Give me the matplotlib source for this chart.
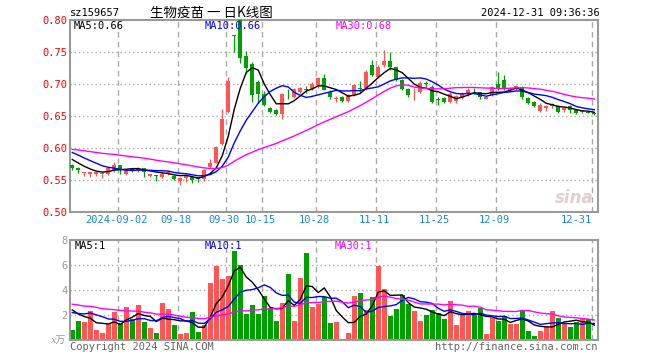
import matplotlib.pyplot as plt
import numpy as np

plt.rcParams['font.family'] = ['DejaVu Sans Mono', 'Noto Sans CJK SC']

# trading days shown (month -> days)
trade_days = {
    8: [21, 22, 23, 26, 27, 28, 29, 30],
    9: [2, 3, 4, 5, 6, 9, 10, 11, 12, 13, 18, 19, 20, 23, 24, 25, 26, 27, 30],
    10: [8, 9, 10, 11, 14, 15, 16, 17, 18, 21, 22, 23, 24, 25, 28, 29, 30, 31],
    11: [1, 4, 5, 6, 7, 8, 11, 12, 13, 14, 15, 18, 19, 20, 21, 22, 25, 26, 27, 28, 29],
    12: [2, 3, 4, 5, 6, 9, 10, 11, 12, 13, 16, 17, 18, 19, 20, 23, 24, 25, 26, 27, 30, 31],
}
dates = [f"2024-{m:02d}-{d:02d}" for m, days in trade_days.items() for d in days]

open_ = [0.573, 0.569, 0.561, 0.560, 0.560, 0.560, 0.560, 0.566, 0.573, 0.560,
         0.567, 0.564, 0.568, 0.557, 0.557, 0.554, 0.559, 0.557, 0.548, 0.553,
         0.554, 0.553, 0.552, 0.570, 0.577, 0.607, 0.657, 0.776, 0.800, 0.743,
         0.731, 0.703, 0.685, 0.662, 0.660, 0.653, 0.685, 0.680, 0.688, 0.692,
         0.692, 0.698, 0.709, 0.688, 0.677, 0.679, 0.674, 0.683, 0.694, 0.693,
         0.729, 0.711, 0.729, 0.736, 0.726, 0.706, 0.692, 0.690, 0.688, 0.701,
         0.696, 0.676, 0.678, 0.672, 0.673, 0.678, 0.684, 0.691, 0.687, 0.677,
         0.683, 0.700, 0.706, 0.691, 0.693, 0.695, 0.678, 0.672, 0.658, 0.662,
         0.665, 0.666, 0.659, 0.665, 0.659, 0.656, 0.657, 0.655]
high = [0.575, 0.570, 0.563, 0.562, 0.563, 0.562, 0.570, 0.578, 0.574, 0.566,
        0.569, 0.570, 0.569, 0.560, 0.558, 0.562, 0.566, 0.558, 0.555, 0.560,
        0.556, 0.555, 0.567, 0.583, 0.603, 0.661, 0.711, 0.776, 0.800, 0.752,
        0.735, 0.706, 0.689, 0.664, 0.661, 0.686, 0.692, 0.694, 0.696, 0.697,
        0.703, 0.711, 0.716, 0.691, 0.681, 0.681, 0.685, 0.700, 0.704, 0.722,
        0.737, 0.730, 0.753, 0.750, 0.727, 0.708, 0.694, 0.693, 0.704, 0.705,
        0.698, 0.679, 0.680, 0.688, 0.683, 0.687, 0.693, 0.694, 0.688, 0.680,
        0.697, 0.718, 0.714, 0.695, 0.698, 0.697, 0.679, 0.673, 0.670, 0.667,
        0.670, 0.667, 0.663, 0.667, 0.660, 0.659, 0.658, 0.656]
low = [0.566, 0.561, 0.557, 0.555, 0.557, 0.553, 0.558, 0.563, 0.559, 0.558,
       0.562, 0.562, 0.555, 0.554, 0.548, 0.553, 0.558, 0.550, 0.542, 0.547,
       0.545, 0.547, 0.549, 0.568, 0.576, 0.605, 0.655, 0.750, 0.733, 0.717,
       0.672, 0.670, 0.665, 0.655, 0.651, 0.646, 0.676, 0.678, 0.686, 0.686,
       0.690, 0.694, 0.690, 0.676, 0.672, 0.672, 0.672, 0.681, 0.688, 0.690,
       0.712, 0.709, 0.727, 0.722, 0.705, 0.690, 0.680, 0.675, 0.686, 0.695,
       0.670, 0.667, 0.670, 0.670, 0.671, 0.676, 0.682, 0.685, 0.677, 0.676,
       0.681, 0.690, 0.690, 0.689, 0.691, 0.677, 0.668, 0.664, 0.656, 0.658,
       0.663, 0.655, 0.656, 0.654, 0.653, 0.655, 0.654, 0.652]
close = [0.568, 0.565, 0.562, 0.562, 0.562, 0.561, 0.569, 0.573, 0.566, 0.565,
         0.566, 0.569, 0.562, 0.559, 0.556, 0.560, 0.563, 0.552, 0.553, 0.558,
         0.550, 0.552, 0.565, 0.576, 0.602, 0.645, 0.705, 0.775, 0.740, 0.725,
         0.683, 0.685, 0.667, 0.657, 0.653, 0.684, 0.684, 0.692, 0.694, 0.691,
         0.700, 0.709, 0.691, 0.679, 0.678, 0.674, 0.683, 0.698, 0.693, 0.719,
         0.714, 0.727, 0.736, 0.726, 0.707, 0.692, 0.683, 0.691, 0.701, 0.700,
         0.672, 0.675, 0.672, 0.685, 0.681, 0.685, 0.691, 0.690, 0.679, 0.679,
         0.695, 0.692, 0.692, 0.693, 0.697, 0.679, 0.671, 0.666, 0.667, 0.666,
         0.668, 0.657, 0.662, 0.659, 0.654, 0.658, 0.655, 0.653]
# volume in units of 10k
volume = [0.80, 1.52, 1.44, 2.35, 0.80, 0.56, 1.28, 2.24, 1.33, 2.61,
          1.65, 2.77, 1.44, 0.96, 0.56, 2.96, 2.45, 1.20, 0.48, 0.56,
          2.24, 0.64, 1.20, 4.56, 5.95, 4.88, 5.12, 7.12, 6.00, 2.08,
          2.80, 2.08, 3.52, 2.53, 1.52, 2.96, 5.28, 1.52, 4.96, 6.96,
          2.64, 2.88, 3.41, 1.36, 1.47, 0.10, 0.59, 3.52, 3.79, 2.40,
          3.47, 5.95, 4.08, 1.95, 2.48, 3.57, 2.88, 2.32, 1.55, 2.00,
          2.40, 2.13, 1.68, 3.12, 1.20, 2.00, 2.35, 2.00, 2.59, 0.48,
          1.79, 1.55, 1.92, 1.28, 1.28, 2.40, 0.72, 0.32, 0.75, 1.07,
          2.35, 1.76, 1.31, 1.04, 1.47, 1.68, 1.68, 0.10]

# closes / volumes before the visible window (needed for the moving averages)
prior_close = [0.596, 0.598, 0.601, 0.603, 0.600, 0.597, 0.599, 0.602, 0.604, 0.601,
               0.598, 0.600, 0.603, 0.605, 0.602, 0.599, 0.597, 0.600, 0.602, 0.600,
               0.606, 0.607, 0.604, 0.602, 0.601, 0.592, 0.588, 0.583, 0.579]
prior_volume = [3.5, 4.2, 2.8, 3.0, 3.9, 2.6, 3.3, 2.9, 3.6, 2.4,
                3.1, 3.8, 2.7, 3.4, 3.0, 2.5, 3.6, 3.2, 2.8, 3.7,
                2.2, 1.8, 1.6, 2.3, 2.0, 3.1, 2.5, 3.0, 2.6]

tick_dates = ["2024-09-02", "2024-09-18", "2024-09-30", "2024-10-15", "2024-10-28",
              "2024-11-11", "2024-11-25", "2024-12-09", "2024-12-31"]
tick_labels = ["2024-09-02", "09-18", "09-30", "10-15", "10-28",
               "11-11", "11-25", "12-09", "12-31"]

ma_periods = [5, 10, 30]
ma_colors = ["black", "#0000ff", "#ff00ff"]

RED = "#ff5555"
GREEN = "#00a000"
GRID = "#aaaaaa"
W, H = 660, 360


def moving_average(values, prior, n):
    full = np.r_[prior, values]
    out = np.convolve(full, np.ones(n) / n, mode="valid")
    return out[-len(values):]


def style_axes(ax):
    for s in ax.spines.values():
        s.set_color("#999999")
        s.set_linewidth(1.5)
    ax.set_xticks([])
    ax.tick_params(axis="y", length=0, pad=2, labelsize=7.5)


def main():
    x = np.arange(len(close))
    o, h, l, c = map(np.array, (open_, high, low, close))
    up = c > o
    colors = np.where(up, RED, GREEN)
    tick_idx = [dates.index(d) for d in tick_dates]

    fig = plt.figure(figsize=(W / 100, H / 100), dpi=100)
    ax = fig.add_axes([70 / W, 148 / H, 528 / W, 192 / H])
    axv = fig.add_axes([70 / W, 20 / H, 528 / W, 100 / H])

    # ---- price panel
    for lev in [0.55, 0.60, 0.65, 0.70, 0.75]:
        ax.axhline(lev, color=GRID, lw=1, ls=(0, (1, 2)), zorder=0)
    for i in tick_idx:
        ax.axvline(i - 0.33, color=GRID, lw=1, ls=(0, (4, 3)), zorder=0)

    ax.vlines(x, l, h, colors=colors, lw=0.9, zorder=2)
    body = np.abs(c - o)
    minh = 0.0012
    bottom = np.minimum(o, c) - np.clip(minh - body, 0, None) / 2
    ax.bar(x, np.maximum(body, minh), bottom=bottom, width=0.72, color=colors, zorder=3)

    ma_vals = []
    for n, col in zip(ma_periods, ma_colors):
        ma = moving_average(c, prior_close, n)
        ma_vals.append(ma[-1])
        ax.plot(x, ma, color=col, lw=1, zorder=4)

    ax.set_xlim(-0.38, 87.62)
    ax.set_ylim(0.50, 0.80)
    ax.set_yticks(np.arange(0.50, 0.801, 0.05))
    ax.set_yticklabels([f"{v:.2f}" for v in np.arange(0.50, 0.801, 0.05)], color="red")
    style_axes(ax)

    for n, col, v, px in zip(ma_periods, ma_colors, ma_vals, [74, 205, 336]):
        ax.text((px - 70) / 528, 0.97, f"MA{n}:{v:.2f}", color=col, fontsize=7.5,
                transform=ax.transAxes, va="center", ha="left", zorder=6)

    for k, (i, lab) in enumerate(zip(tick_idx, tick_labels)):
        last = k == len(tick_idx) - 1
        ax.text(i - 0.33 if last else i - 0.7, -0.042, lab, color="#1a8ad4",
                fontsize=7.5, ha="right" if last else "center", va="center",
                transform=ax.get_xaxis_transform(), clip_on=False)

    ax.text(0.955, 0.075, "sina", transform=ax.transAxes, fontsize=12,
            fontstyle="italic", fontweight="bold", color="#dcd0d0",
            family="DejaVu Sans", ha="center", va="center", zorder=1)

    # ---- volume panel
    for lev in [2, 4, 6]:
        axv.axhline(lev, color=GRID, lw=1, ls=(0, (1, 2)), zorder=0)
    for i in tick_idx:
        axv.axvline(i - 0.33, color=GRID, lw=1, ls=(0, (4, 3)), zorder=0)

    v = np.array(volume)
    axv.bar(x, v, width=0.85, color=colors, zorder=2)
    vma_vals = []
    for n, col in zip(ma_periods, ma_colors):
        ma = moving_average(v, prior_volume, n)
        vma_vals.append(ma[-1])
        axv.plot(x, ma, color=col, lw=1, zorder=4)

    axv.set_xlim(-0.38, 87.62)
    axv.set_ylim(0, 8)
    axv.set_yticks([2, 4, 6, 8])
    axv.set_yticklabels(["2", "4", "6", "8"], color="#999999")
    style_axes(axv)

    for n, col, val, px in zip(ma_periods, ma_colors, vma_vals, [75, 205, 335]):
        axv.text((px - 70) / 528, 0.94, f"MA{n}:{int(val)}", color=col, fontsize=7.5,
                 transform=axv.transAxes, va="center", ha="left", zorder=6)

    # ---- header / footer
    fig.text(70 / W, 1 - 13 / H, "sz159657", fontsize=7.5, va="center", ha="left")
    fig.text(150 / W, 1 - 13 / H, "生物疫苗 一 日K线图", fontsize=9.7, va="center",
             ha="left", family=["Noto Sans CJK SC", "DejaVu Sans"])
    fig.text(600 / W, 1 - 13 / H, "2024-12-31 09:36:36", fontsize=7.5, va="center", ha="right")
    fig.text(66 / W, 1 - 340 / H, "x万", fontsize=7, va="center", ha="right", color="#999999",
             fontstyle="italic", family=["DejaVu Serif", "Noto Sans CJK SC"])
    fig.text(70 / W, 1 - 347 / H, "Copyright 2024 SINA.COM", fontsize=7.5, va="center",
             ha="left", color="#666666")
    fig.text(598 / W, 1 - 347 / H, "http://finance.sina.com.cn", fontsize=7.5, va="center",
             ha="right", color="#666666")

    fig.savefig("out.png", dpi=100, facecolor="white")


if __name__ == "__main__":
    main()
